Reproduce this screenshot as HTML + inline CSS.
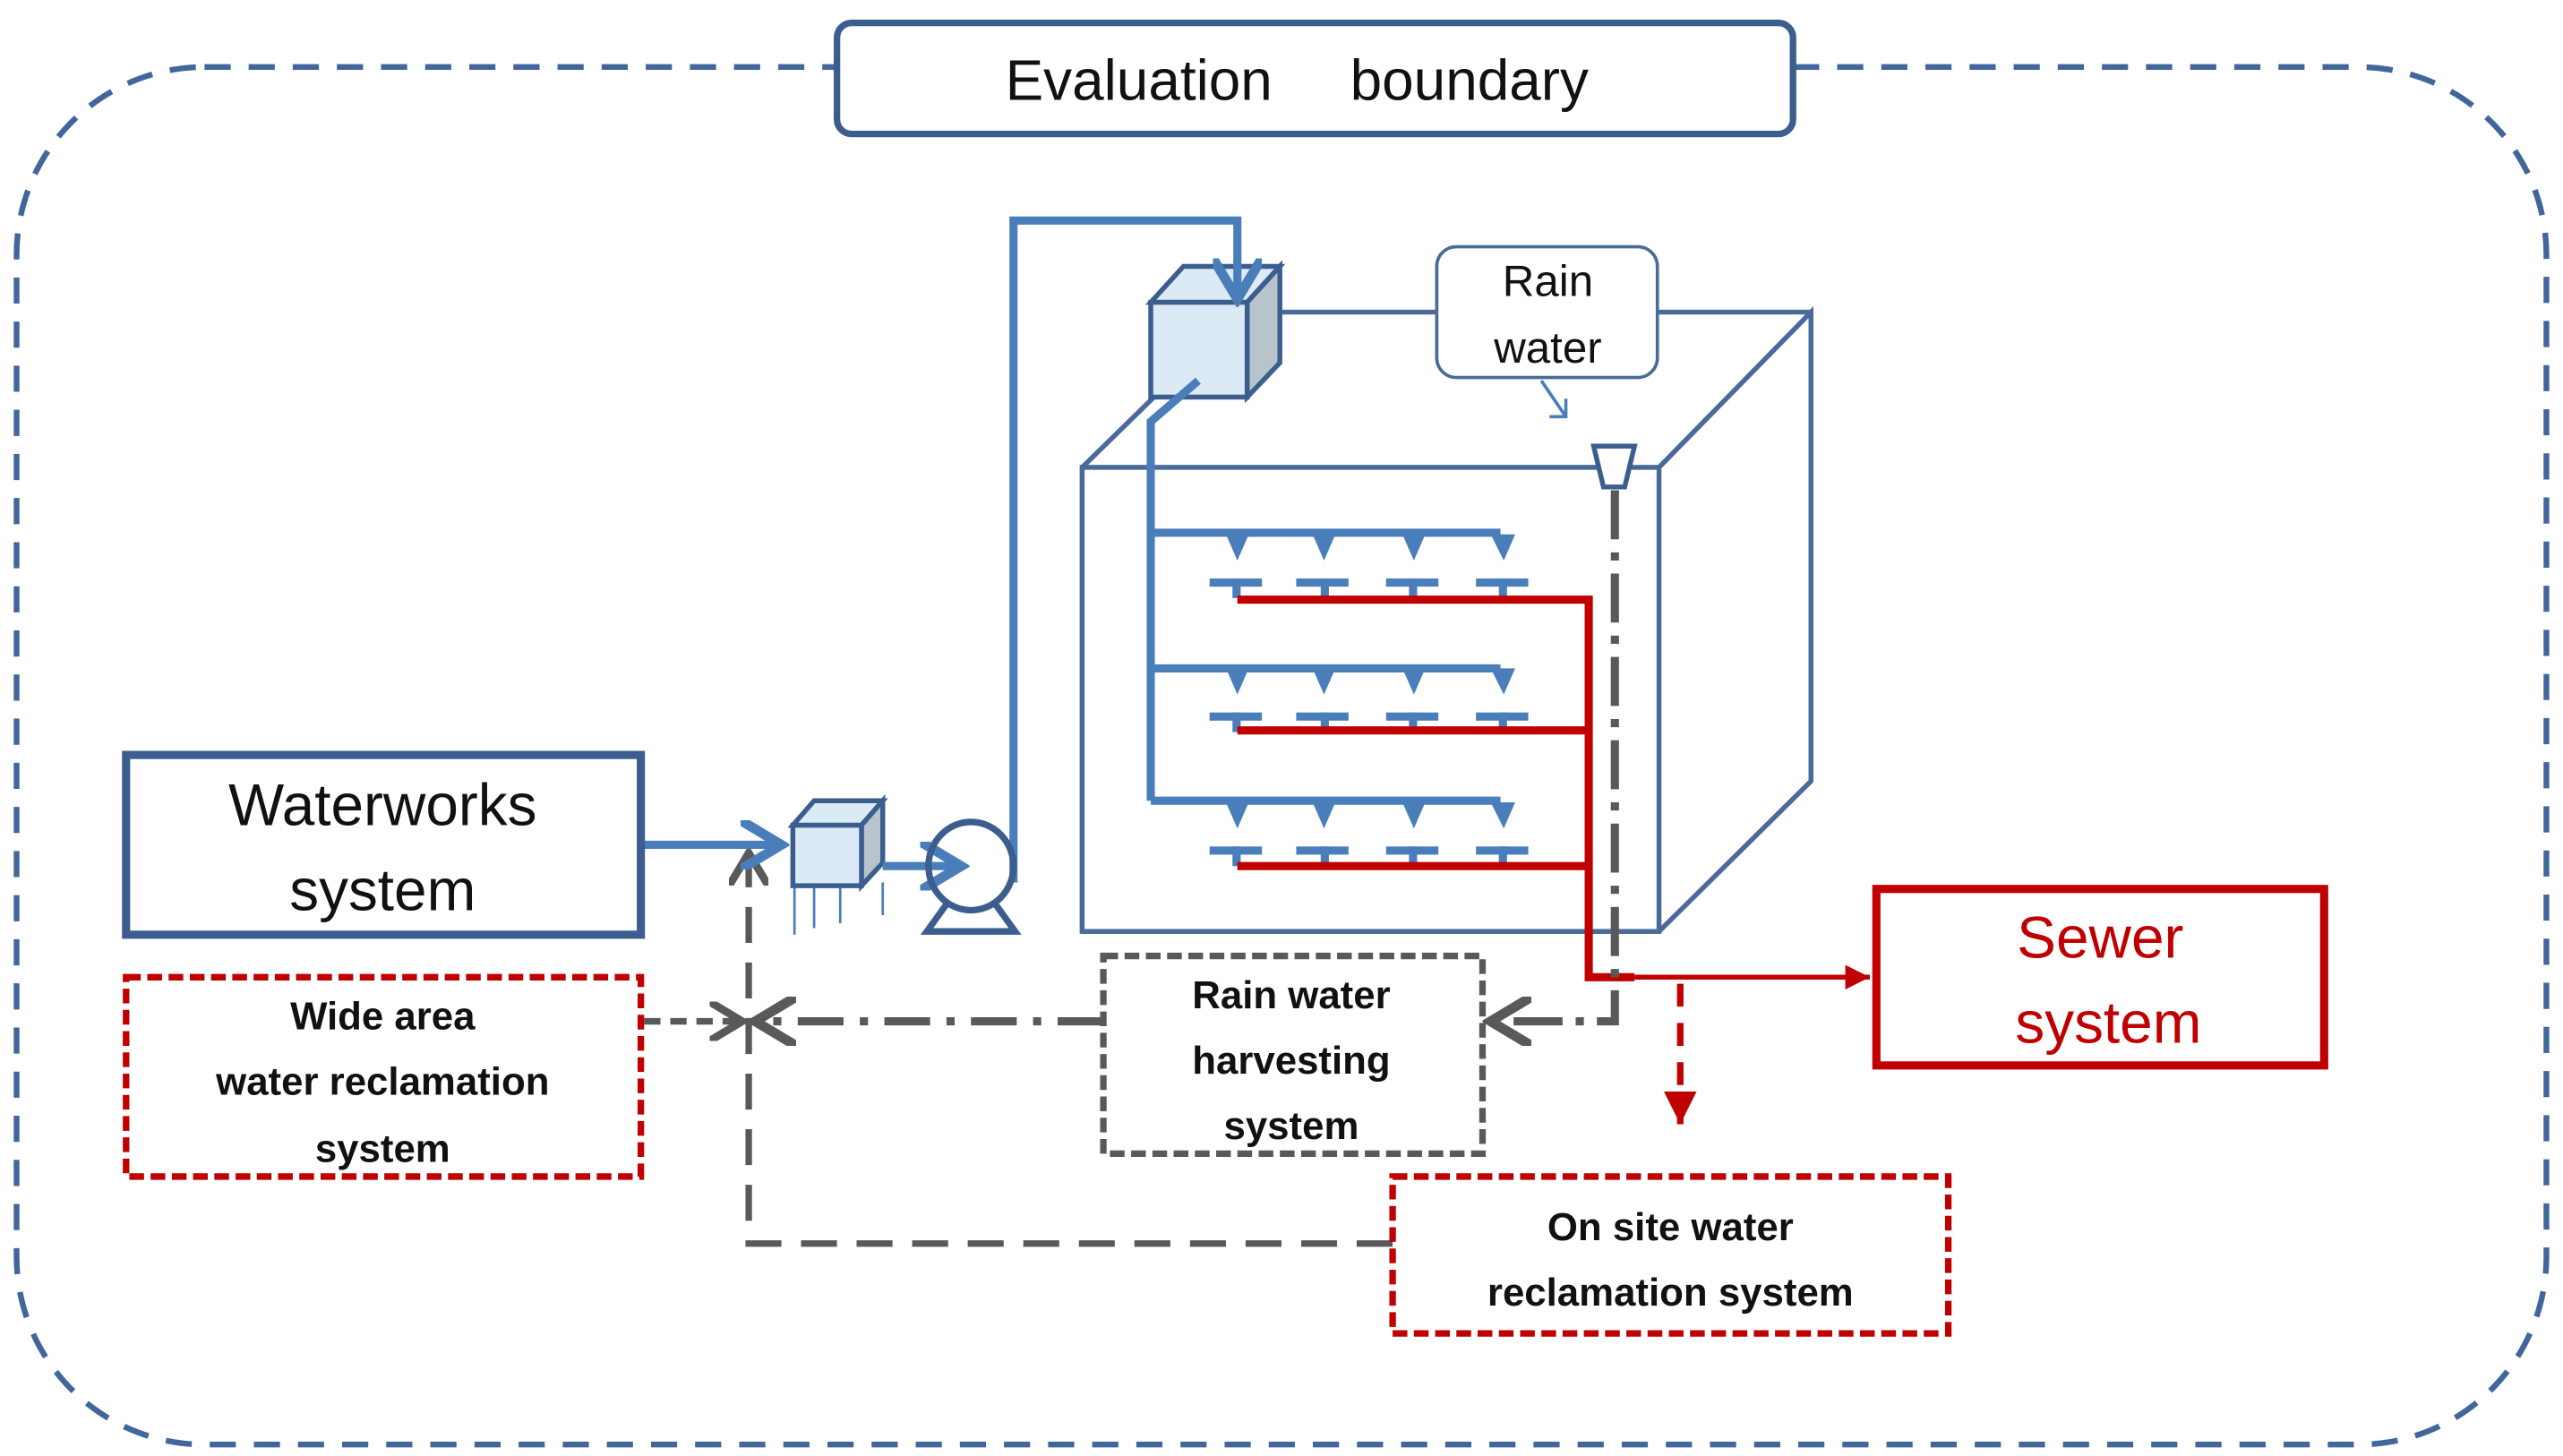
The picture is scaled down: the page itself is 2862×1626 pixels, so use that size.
<!DOCTYPE html>
<html><head><meta charset="utf-8"><style>
html,body{margin:0;padding:0;background:#fff;}
svg{display:block;}
text{font-family:"Liberation Sans",sans-serif;white-space:pre;}
</style></head><body>
<svg width="2862" height="1626" viewBox="0 0 1568 891" xmlns="http://www.w3.org/2000/svg">
<defs>
<marker id="ab" markerWidth="6" markerHeight="6" refX="5" refY="3" orient="auto" markerUnits="strokeWidth"><path d="M0,0 L5,3 L0,6" fill="none" stroke="#4a7ebb" stroke-width="1.2"/></marker>
<marker id="ag" markerWidth="6" markerHeight="6" refX="5" refY="3" orient="auto" markerUnits="strokeWidth"><path d="M0,0 L5,3 L0,6" fill="none" stroke="#595959" stroke-width="1.2"/></marker>
<marker id="ar" markerWidth="6" markerHeight="6" refX="5" refY="3" orient="auto" markerUnits="strokeWidth"><path d="M0,0.5 L5,3 L0,5.5 Z" fill="#c00000"/></marker>
</defs>
<rect x="10" y="41" width="1548" height="843" rx="115" fill="none" stroke="#41669b" stroke-width="3.5" stroke-dasharray="16 11"/>
<rect x="512" y="14" width="585" height="68" rx="9" fill="#fff" stroke="#3b5e8f" stroke-width="4"/>
<text x="615" y="61" font-size="35" fill="#111">Evaluation</text>
<text x="826" y="61" font-size="35" fill="#111">boundary</text>

<g fill="none" stroke="#4a6a9a" stroke-width="3">
<rect x="662" y="286" width="353" height="284"/>
<path d="M1015,286 L1108,191 L1108,478 L1015,570"/>
<path d="M783,191 L1108,191"/>
<path d="M662,286 L708,241"/>
</g>
<polygon points="704,185 724,163 783,163 763,185" fill="#dbeaf4" stroke="#3b5e8f" stroke-width="3"/>
<polygon points="763,185 783,163 783,222 763,243" fill="#b8c4cc" stroke="#3b5e8f" stroke-width="3"/>
<rect x="704" y="185" width="59" height="58" fill="#dbeaf4" stroke="#3b5e8f" stroke-width="3"/>

<g fill="none" stroke="#4a7ebb" stroke-width="5">
<path d="M620,540 L620,135 L757,135 L757,183" marker-end="url(#ab)"/>
<path d="M733,233 L704,258 L704,490"/>
<path d="M704,326 L918,326"/>
<path d="M704,409 L918,409"/>
<path d="M704,490 L918,490"/>
</g>
<g fill="#4a7ebb">
<g id="row">
<path d="M750,327 L764,327 L757,343Z"/><path d="M803,327 L817,327 L810,343Z"/><path d="M858,327 L872,327 L865,343Z"/><path d="M912,327 L927,327 L920,343Z"/>
<rect x="740" y="354" width="32" height="5"/><rect x="754" y="354" width="5" height="12"/>
<rect x="793" y="354" width="32" height="5"/><rect x="808" y="354" width="5" height="12"/>
<rect x="848" y="354" width="32" height="5"/><rect x="862" y="354" width="5" height="12"/>
<rect x="903" y="354" width="32" height="5"/><rect x="917" y="354" width="5" height="12"/>
</g>
<use href="#row" y="82"/>
<use href="#row" y="164"/>
</g>
<g fill="none" stroke="#c00000" stroke-width="5">
<path d="M757,367 L972,367 L972,598 L1000,598"/>
<path d="M757,447 L972,447"/>
<path d="M757,530 L972,530"/>
</g>
<path d="M1000,598 L1144,598" stroke="#c00000" stroke-width="3" fill="none" marker-end="url(#ar)"/>
<path d="M1028,602 L1028,688" stroke="#c00000" stroke-width="4" stroke-dasharray="14 10" fill="none" marker-end="url(#ar)"/>

<path d="M975,273 L1000,273 L994,298 L981,298 Z" fill="#fff" stroke="#3b5e8f" stroke-width="3"/>
<path d="M988,300 L988,625 L912,625" fill="none" stroke="#595959" stroke-width="5" stroke-dasharray="30 8 5 8" marker-end="url(#ag)"/>
<rect x="879" y="151" width="135" height="80" rx="12" fill="#fff" stroke="#4a6a9a" stroke-width="2"/>
<text x="947" y="181" font-size="27" text-anchor="middle" fill="#111">Rain</text>
<text x="947" y="222" font-size="27" text-anchor="middle" fill="#111">water</text>
<path d="M943,233 L958,255 M948,255 L958,255 L958,244" fill="none" stroke="#4a7ebb" stroke-width="2"/>

<path d="M675,625 L462,625" fill="none" stroke="#595959" stroke-width="5" stroke-dasharray="28 10 5 10" marker-end="url(#ag)"/>
<path d="M394,625 L454,625" fill="none" stroke="#595959" stroke-width="4" stroke-dasharray="10 6" marker-end="url(#ag)"/>
<path d="M852,761 L458,761 L458,522" fill="none" stroke="#595959" stroke-width="4" stroke-dasharray="22 12" marker-end="url(#ag)"/>

<path d="M392,517 L478,517" fill="none" stroke="#4a7ebb" stroke-width="5" marker-end="url(#ab)"/>
<g stroke="#4a7ebb" stroke-width="1.5"><path d="M486,540 L486,572 M498,540 L498,568 M514,540 L514,565 M540,540 L540,560"/></g>
<polygon points="485,505 498,490 540,490 527,505" fill="#dbeaf4" stroke="#3b5e8f" stroke-width="3"/>
<polygon points="527,505 540,490 540,528 527,542" fill="#b8c4cc" stroke="#3b5e8f" stroke-width="3"/>
<rect x="485" y="505" width="42" height="37" fill="#dbeaf4" stroke="#3b5e8f" stroke-width="3"/>
<path d="M540,530 L588,530" fill="none" stroke="#4a7ebb" stroke-width="5" marker-end="url(#ab)"/>
<ellipse cx="594" cy="530" rx="26" ry="27" fill="none" stroke="#3b5e8f" stroke-width="4"/>
<path d="M580,552 L567,570 L621,570 L608,552" fill="none" stroke="#3b5e8f" stroke-width="4"/>

<rect x="77" y="462" width="315" height="110" fill="#fff" stroke="#3b5e8f" stroke-width="5"/>
<text x="234" y="505" font-size="36" text-anchor="middle" fill="#111">Waterworks</text>
<text x="234" y="557" font-size="36" text-anchor="middle" fill="#111">system</text>

<rect x="77" y="598" width="315" height="122" fill="#fff" stroke="#c00000" stroke-width="4" stroke-dasharray="9 4"/>
<g font-size="24" font-weight="bold" text-anchor="middle" fill="#111">
<text x="234" y="630">Wide area</text>
<text x="234" y="670">water reclamation</text>
<text x="234" y="711">system</text>
</g>

<rect x="675" y="585" width="232" height="121" fill="#fff" stroke="#595959" stroke-width="4" stroke-dasharray="9 4"/>
<g font-size="24" font-weight="bold" text-anchor="middle" fill="#111">
<text x="790" y="617">Rain water</text>
<text x="790" y="657">harvesting</text>
<text x="790" y="697">system</text>
</g>

<rect x="852" y="720" width="340" height="96" fill="#fff" stroke="#c00000" stroke-width="4" stroke-dasharray="9 4"/>
<g font-size="24" font-weight="bold" text-anchor="middle" fill="#111">
<text x="1022" y="759">On site water</text>
<text x="1022" y="799">reclamation system</text>
</g>

<rect x="1148" y="544" width="274" height="108" fill="#fff" stroke="#c00000" stroke-width="5"/>
<text x="1285" y="586" font-size="36" text-anchor="middle" fill="#c00000">Sewer</text>
<text x="1290" y="638" font-size="36" text-anchor="middle" fill="#c00000">system</text>
</svg>
</body></html>
